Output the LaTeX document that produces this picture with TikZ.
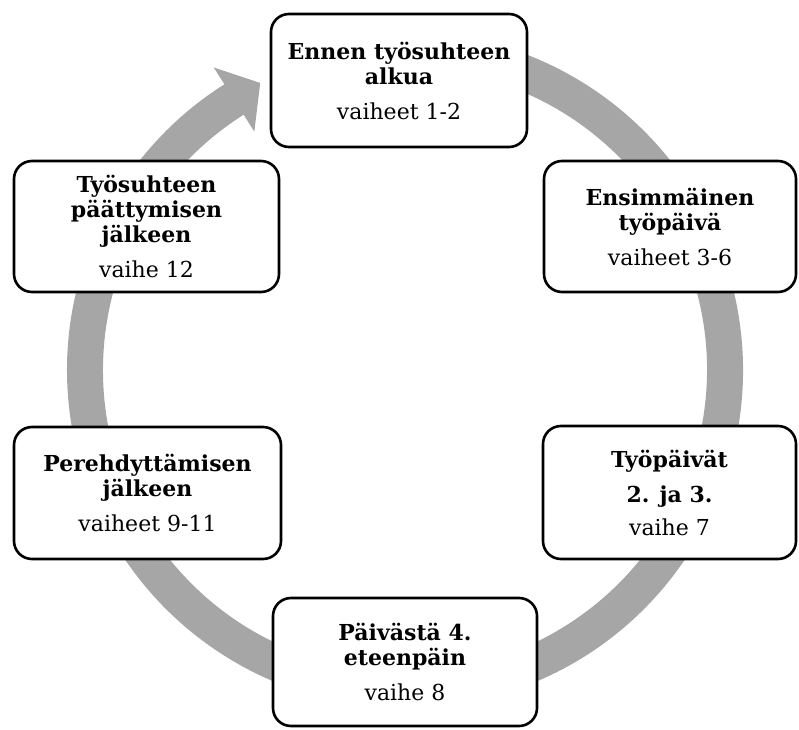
\documentclass[tikz,border=0pt]{standalone}
\usepackage{fontspec}
\setmainfont{DejaVu Serif}
\usetikzlibrary{calc}
\definecolor{ringgray}{RGB}{166,166,166}
\newcommand\stepsfont{\fontsize{22}{25}\selectfont}

\begin{document}
\begin{tikzpicture}[x=1pt,y=1pt,
  stagebox/.style={draw=black, line width=2.6pt, rounded corners=18pt,
    fill=white, align=center, inner sep=0pt,
    font=\fontsize{22}{25}\selectfont},
]
\useasboundingbox (0,0) rectangle (799,729);

% centre of the cycle
\coordinate (c) at (405,359);

% wide grey circular arrow running clockwise
\fill[ringgray] ($(c)+(100:338)$)
  arc[start angle=100, end angle=-237.7, radius=338]
  -- ($(c)+(-237.7:358)$)
  -- ($(c)+(-237.7:320)+(-327.7:31)$)
  -- ($(c)+(-237.7:282)$)
  -- ($(c)+(-237.7:302)$)
  arc[start angle=-237.7, end angle=100, radius=302]
  -- cycle;

% the six stages
\node[stagebox, minimum width=256pt, minimum height=133pt] (before) at (399,648.5)
  {\textbf{Ennen työsuhteen}\\\textbf{alkua}\\[10pt]{\stepsfont vaiheet 1-2}};
\node[stagebox, minimum width=252pt, minimum height=131pt] (firstday) at (670,502.5)
  {\textbf{Ensimmäinen}\\\textbf{työpäivä}\\[10pt]{\stepsfont vaiheet 3-6}};
\node[stagebox, minimum width=253pt, minimum height=133pt] (days23) at (669.5,236.5)
  {\textbf{Työpäivät}\\[10pt]\textbf{2. ja 3.}\\[8pt]{\stepsfont vaihe 7}};
\node[stagebox, minimum width=264pt, minimum height=128pt] (fromday4) at (405,67)
  {\textbf{Päivästä 4.}\\\textbf{eteenpäin}\\[10pt]{\stepsfont vaihe 8}};
\node[stagebox, minimum width=267pt, minimum height=132pt] (afterintro) at (147.5,236)
  {\textbf{Perehdyttämisen}\\\textbf{jälkeen}\\[10pt]{\stepsfont vaiheet 9-11}};
\node[stagebox, minimum width=265pt, minimum height=131pt] (afterend) at (146.5,502.5)
  {\textbf{Työsuhteen}\\\textbf{päättymisen}\\\textbf{jälkeen}\\[10pt]{\stepsfont vaihe 12}};
\end{tikzpicture}
\end{document}
